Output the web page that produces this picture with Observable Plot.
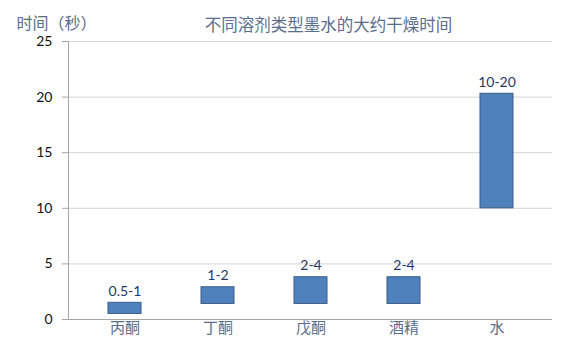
<!DOCTYPE html>
<html>
<head>
<meta charset="utf-8">
<script src="https://cdn.jsdelivr.net/npm/d3@7"></script>
<script src="https://cdn.jsdelivr.net/npm/@observablehq/plot@0.6"></script>
<style>
  html, body { margin: 0; padding: 0; background: #fff; }
</style>
</head>
<body>
<div id="chart"></div>
<script>
const categories = ["丙酮", "丁酮", "戊酮", "酒精", "水"];
const lowValues = [0.5, 1.4, 1.4, 1.4, 10];
const highValues = [1.5, 2.9, 3.8, 3.8, 20.3];
const rangeLabels = ["0.5-1", "1-2", "2-4", "2-4", "10-20"];
const yTicks = [0, 5, 10, 15, 20, 25];
const title = "不同溶剂类型墨水的大约干燥时间";
const yLabel = "时间（秒）";

const data = categories.map((c, i) => ({
  cat: c, lo: lowValues[i], hi: highValues[i], label: rangeLabels[i]
}));

const cjk = "'Noto Sans CJK SC', sans-serif";
const num = "Lato, 'Open Sans', sans-serif";

const chart = Plot.plot({
  width: 588,
  height: 362,
  marginTop: 41,
  marginBottom: 43,
  marginLeft: 68,
  marginRight: 36,
  style: { background: "#fff", overflow: "visible" },
  x: { type: "band", domain: categories, paddingInner: 0.65, paddingOuter: 0.42, label: null },
  y: { domain: [0, 25], label: null },
  marks: [
    Plot.gridY(yTicks, { stroke: "#d6d6d6", strokeOpacity: 1 }),
    Plot.axisY(yTicks, {
      tickSize: 6, tickPadding: 10, fontSize: 14, fontFamily: num,
      fill: "#111", stroke: "#a6a6a6", label: null
    }),
    Plot.frame({ anchor: "left", stroke: "#a6a6a6" }),
    Plot.ruleY([0], { stroke: "#a6a6a6" }),
    Plot.barY(data, {
      x: "cat", y1: "lo", y2: "hi",
      fill: "#4f81bd", stroke: "#385d8a", strokeWidth: 1
    }),
    Plot.text(data, {
      x: "cat", y: "hi", text: "label", dy: -7, lineAnchor: "bottom",
      fontSize: 14, fontFamily: num, fill: "#1f3864"
    }),
    Plot.axisX({
      tickSize: 0, tickPadding: 3, fontSize: 15, fontFamily: cjk,
      fill: "#5a6d8a", label: null
    }),
    Plot.text([title], {
      frameAnchor: "top", dx: 18, dy: -11, lineAnchor: "bottom",
      fontSize: 16.5, fontFamily: cjk, fill: "#5a6d8a"
    }),
    Plot.text([yLabel], {
      frameAnchor: "top-left", textAnchor: "start", dx: -52, dy: -13, lineAnchor: "bottom",
      fontSize: 16, fontFamily: cjk, fill: "#5a6d8a"
    })
  ]
});
document.getElementById("chart").appendChild(chart);
</script>
</body>
</html>
